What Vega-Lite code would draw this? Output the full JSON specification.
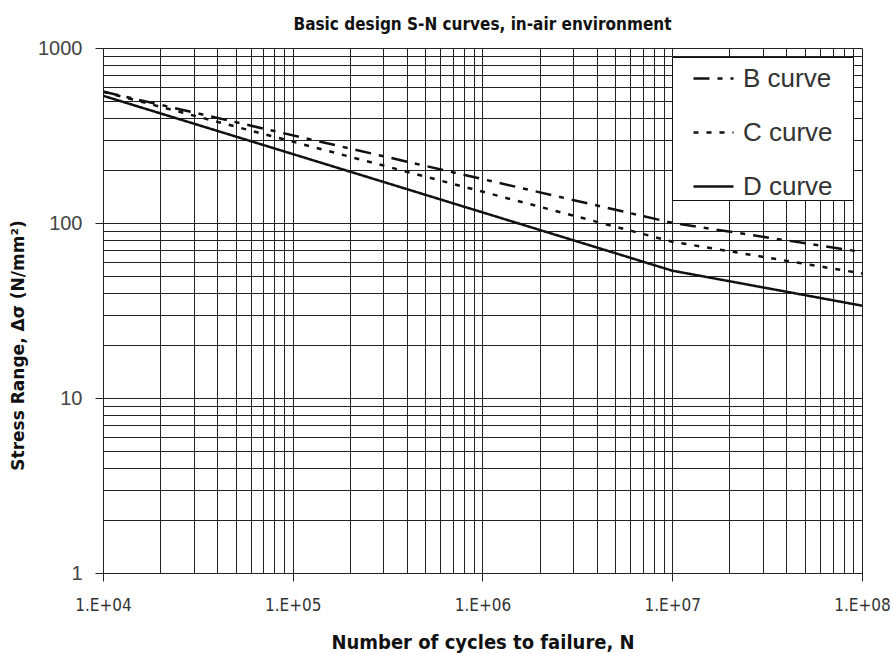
{
  "$schema": "https://vega.github.io/schema/vega-lite/v6.json",
  "width": 759,
  "height": 525,
  "autosize": {"type": "none"},
  "padding": {"left": 103, "top": 48, "right": 31, "bottom": 80},
  "background": "white",
  "title": {
    "text": "Basic design S-N curves, in-air environment",
    "font": "DejaVu Sans Condensed",
    "fontSize": 17,
    "fontWeight": "bold",
    "color": "#111",
    "offset": 4,
    "anchor": "middle"
  },
  "data": {
    "values": [
      {"N": 10000, "S": 563.7, "curve": "B curve"},
      {"N": 10000000, "S": 100.2, "curve": "B curve"},
      {"N": 100000000, "S": 68.3, "curve": "B curve"},
      {"N": 10000, "S": 563.0, "curve": "C curve"},
      {"N": 10000000, "S": 78.2, "curve": "C curve"},
      {"N": 100000000, "S": 51.5, "curve": "C curve"},
      {"N": 10000, "S": 533.6, "curve": "D curve"},
      {"N": 10000000, "S": 53.4, "curve": "D curve"},
      {"N": 100000000, "S": 33.7, "curve": "D curve"}
    ]
  },
  "mark": {"type": "line", "color": "#111", "clip": true},
  "encoding": {
    "x": {
      "field": "N",
      "type": "quantitative",
      "scale": {"type": "log", "domain": [10000, 100000000], "nice": false},
      "axis": {
        "title": "Number of cycles to failure, N",
        "titleFont": "DejaVu Sans Condensed",
        "titleFontSize": 20,
        "titleFontWeight": "bold",
        "titleColor": "#111",
        "titlePadding": 19,
        "values": [10000,20000,30000,40000,50000,60000,70000,80000,90000,100000,200000,300000,400000,500000,600000,700000,800000,900000,1000000,2000000,3000000,4000000,5000000,6000000,7000000,8000000,9000000,10000000,20000000,30000000,40000000,50000000,60000000,70000000,80000000,90000000,100000000],
        "labelExpr": "abs(log(datum.value)/LN10 - round(log(datum.value)/LN10)) < 0.001 ? '1.E+0' + round(log(datum.value)/LN10) : ''",
        "labelFont": "DejaVu Sans Condensed",
        "labelFontSize": 17,
        "labelColor": "#333",
        "labelPadding": 16,
        "labelOverlap": false,
        "labelFlush": false,
        "grid": true,
        "gridColor": "#222",
        "gridWidth": 1,
        "gridOpacity": 1,
        "domainColor": "#222",
        "tickColor": "#222",
        "tickSize": {"condition": {"test": "abs(log(datum.value)/LN10 - round(log(datum.value)/LN10)) < 0.001", "value": 8}, "value": 0}
      }
    },
    "y": {
      "field": "S",
      "type": "quantitative",
      "scale": {"type": "log", "domain": [1, 1000], "nice": false},
      "axis": {
        "title": "Stress Range, Δσ (N/mm²)",
        "titleFont": "DejaVu Sans",
        "titleFontSize": 17,
        "titleFontWeight": "bold",
        "titleColor": "#111",
        "titlePadding": 10,
        "titleY": 297,
        "values": [1,2,3,4,5,6,7,8,9,10,20,30,40,50,60,70,80,90,100,200,300,400,500,600,700,800,900,1000],
        "labelExpr": "abs(log(datum.value)/LN10 - round(log(datum.value)/LN10)) < 0.001 ? format(datum.value, 'd') : ''",
        "labelFont": "Liberation Sans",
        "labelFontSize": 20,
        "labelColor": "#444",
        "labelPadding": 13,
        "labelOverlap": false,
        "labelFlush": false,
        "grid": true,
        "gridColor": "#222",
        "gridWidth": 1,
        "gridOpacity": 1,
        "domainColor": "#222",
        "tickColor": "#222",
        "tickSize": {"condition": {"test": "abs(log(datum.value)/LN10 - round(log(datum.value)/LN10)) < 0.001", "value": 8}, "value": 0}
      }
    },
    "strokeDash": {
      "field": "curve",
      "type": "nominal",
      "scale": {"domain": ["B curve", "C curve", "D curve"], "range": [[16, 8, 5, 8], [5, 8], [1, 0]]},
      "legend": {
        "title": "x",
        "titleOrient": "right",
        "titleColor": "white",
        "titleFontSize": 4,
        "titlePadding": 17,
        "orient": "none",
        "legendX": 569,
        "legendY": 9,
        "padding": 0,
        "fillColor": "white",
        "strokeColor": "#111",
        "symbolType": "stroke",
        "symbolSize": 1600,
        "symbolOffset": 20,
        "symbolStrokeColor": "#111",
        "symbolStrokeWidth": 2.5,
        "labelFont": "Liberation Sans",
        "labelFontSize": 26,
        "labelColor": "#333",
        "labelOffset": 8,
        "rowPadding": 19
      }
    },
    "strokeWidth": {
      "field": "curve",
      "type": "nominal",
      "scale": {"domain": ["B curve", "C curve", "D curve"], "range": [2.5, 2.5, 1]},
      "legend": null
    }
  }
}
